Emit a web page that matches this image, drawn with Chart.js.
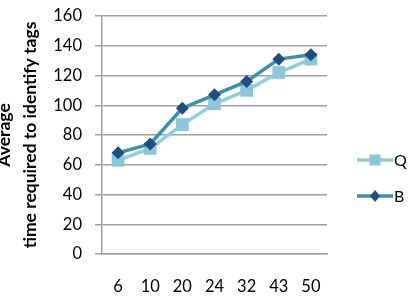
<!DOCTYPE html>
<html><head><meta charset="utf-8">
<script src="https://cdn.jsdelivr.net/npm/chart.js@4"></script>
<style>
html,body{margin:0;padding:0;background:#fff;overflow:hidden;}
#wrap{position:absolute;left:-8px;top:0;width:421px;height:308px;}
canvas{display:block;width:421px;height:308px;}
</style></head><body>
<div id="wrap"><canvas id="c" width="421" height="308"></canvas></div>
<script>
const categories = ['6','10','20','24','32','43','50'];
const seriesQ = [63, 71, 87, 101, 110, 122, 131];
const seriesB = [68, 74, 98, 107, 116, 131, 134];
const yTicks = [0, 20, 40, 60, 80, 100, 120, 140, 160];
const titleLines = ['Average', 'time required to identify tags'];

const colQLine = '#93CDDD', colQPt = '#8CC6D8';
const colBLine = '#3A92AD', colBPt = '#1F4F80';
const FONT = 'Lato, "Open Sans", sans-serif';

const legendPlugin = {
  id: 'customLegend',
  afterDraw(chart) {
    const ctx = chart.ctx;
    const items = [
      {label: 'Q', line: colQLine, pt: colQPt, style: 'rect', y: 160},
      {label: 'B', line: colBLine, pt: colBPt, style: 'rectRot', y: 196}
    ];
    ctx.save();
    items.forEach(it => {
      const x0 = 365, x1 = 401, xm = (x0 + x1) / 2;
      ctx.strokeStyle = it.line; ctx.lineWidth = 3.5;
      ctx.beginPath(); ctx.moveTo(x0, it.y); ctx.lineTo(x1, it.y); ctx.stroke();
      ctx.fillStyle = it.pt;
      if (it.style === 'rect') { ctx.fillRect(xm - 5.5, it.y - 5.5, 11, 11); }
      else { ctx.beginPath(); ctx.moveTo(xm, it.y - 6); ctx.lineTo(xm + 5, it.y); ctx.lineTo(xm, it.y + 6); ctx.lineTo(xm - 5, it.y); ctx.closePath(); ctx.fill(); }
      ctx.fillStyle = '#000'; ctx.font = '16px ' + FONT; ctx.textBaseline = 'middle'; ctx.textAlign = 'left';
      ctx.fillText(it.label, x1 + 1, it.y + 1);
    });
    ctx.restore();
  }
};

new Chart(document.getElementById('c'), {
  type: 'line',
  data: {
    labels: categories,
    datasets: [
      {label: 'B', data: seriesB, borderColor: colBLine, backgroundColor: colBPt, pointBackgroundColor: colBPt, pointBorderColor: colBPt,
       borderWidth: 3.5, pointStyle: 'rectRot', pointRadius: 6.5, pointBorderWidth: 0, tension: 0},
      {label: 'Q', data: seriesQ, borderColor: colQLine, backgroundColor: colQPt, pointBackgroundColor: colQPt, pointBorderColor: colQPt,
       borderWidth: 3.5, pointStyle: 'rect', pointRadius: 9, pointBorderWidth: 0, tension: 0}
    ]
  },
  options: {
    responsive: false, maintainAspectRatio: false, animation: false, devicePixelRatio: 1,
    layout: {autoPadding: false, padding: {top: 16, right: 86, bottom: 8, left: 0}},
    plugins: {legend: {display: false}, tooltip: {enabled: false}},
    scales: {
      x: {
        offset: true,
        grid: {display: false, drawTicks: false},
        border: {display: true, color: '#A0A0A0', width: 1.5},
        ticks: {color: '#000', font: {family: FONT, size: 16.5}, padding: 23, maxRotation: 0, autoSkip: false},
        afterFit(s) { s.height = 46; }
      },
      y: {
        min: 0, max: 160,
        afterBuildTicks(s) { s.ticks = yTicks.map(v => ({value: v})); },
        grid: {color: '#A0A0A0', lineWidth: 1.5, tickLength: 7},
        border: {display: true, color: '#A0A0A0', width: 1.5},
        ticks: {color: '#000', font: {family: FONT, size: 16.5}, padding: 13},
        title: {display: true, text: titleLines, color: '#000', font: {family: FONT, size: 17.5, weight: 'bold', lineHeight: 1.45}, padding: {top: 0, bottom: 0}},
        afterFit(s) { s.width = 110; s.paddingTop = 0; s.paddingBottom = 0; }
      }
    }
  },
  plugins: [legendPlugin]
});
</script>
</body></html>
